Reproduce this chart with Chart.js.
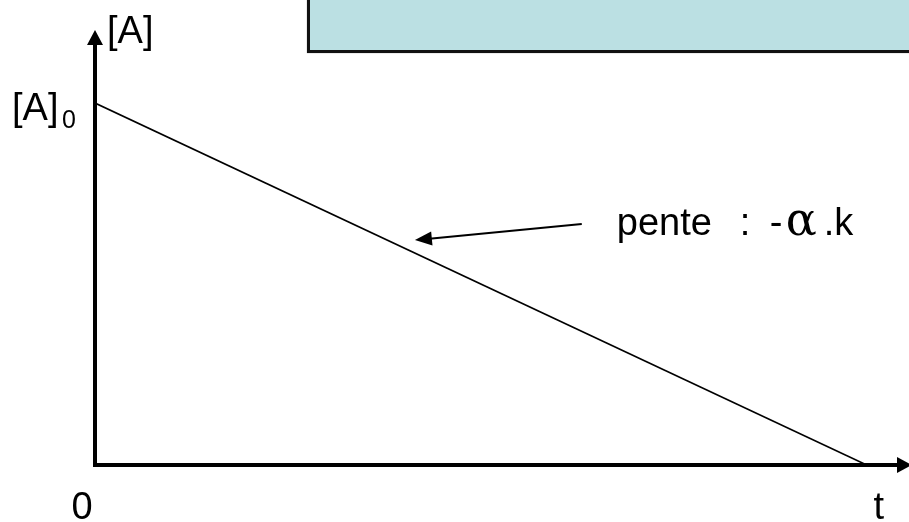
<!DOCTYPE html>
<html>
<head>
<meta charset="utf-8">
<title>[A] = f(t)</title>
<script src="https://cdn.jsdelivr.net/npm/chart.js@4.4.1/dist/chart.umd.min.js"></script>
<style>
  html, body { margin:0; padding:0; background:#fff; }
  #wrap { position:relative; width:909px; height:522px; overflow:hidden; }
  #chart { position:absolute; left:0; top:0; }
  .banner {
    position:absolute; left:307px; top:-4px; width:720px; height:57px;
    box-sizing:border-box; border:3px solid #111; background:#bbe0e3;
    box-shadow:0 0 1px #888;
  }
</style>
</head>
<body>
<div id="wrap">
  <canvas id="chart" width="909" height="522"></canvas>
  <div class="banner"></div>
</div>
<script>
// zero-order decay: [A] falls linearly from [A]0 to 0
const tValues = [0, 9.48];
const concValues = [8.32, 0];
const xMax = 10, yMax = 10;

// slope callout, in data units
const arrowFrom = { x: 5.98, y: 5.54 };
const arrowTo = { x: 3.93, y: 5.17 };
const slopeLabelAt = { x: 6.41, y: 5.29 };

const FONT = '"Liberation Sans", Arial, sans-serif';

function arrowHead(ctx, tipX, tipY, angle, len, half){
  ctx.save();
  ctx.translate(tipX, tipY);
  ctx.rotate(angle);
  ctx.beginPath();
  ctx.moveTo(0, 0);
  ctx.lineTo(-len, -half);
  ctx.lineTo(-len, half);
  ctx.closePath();
  ctx.fill();
  ctx.restore();
}

const axesPlugin = {
  id: "axesAndLabels",
  afterDraw(chart){
    const ctx = chart.ctx;
    const xs = chart.scales.x, ys = chart.scales.y;
    const area = chart.chartArea;
    const x0 = xs.getPixelForValue(0);
    const y0 = ys.getPixelForValue(0);

    ctx.save();
    ctx.strokeStyle = "#000";
    ctx.fillStyle = "#000";

    // axes with arrow heads
    ctx.lineWidth = 4;
    ctx.lineCap = "butt";
    ctx.beginPath();
    ctx.moveTo(x0, y0 + 2);
    ctx.lineTo(x0, area.top + 12);
    ctx.moveTo(x0 - 2, y0);
    ctx.lineTo(area.right - 10, y0);
    ctx.stroke();
    arrowHead(ctx, x0, area.top, -Math.PI / 2, 15, 8);
    arrowHead(ctx, area.right + 3, y0, 0, 15, 8);

    // slope callout arrow
    const fx = xs.getPixelForValue(arrowFrom.x), fy = ys.getPixelForValue(arrowFrom.y);
    const tx = xs.getPixelForValue(arrowTo.x), ty = ys.getPixelForValue(arrowTo.y);
    const ang = Math.atan2(ty - fy, tx - fx);
    ctx.lineWidth = 2;
    ctx.beginPath();
    ctx.moveTo(fx, fy);
    ctx.lineTo(tx - Math.cos(ang) * 12, ty - Math.sin(ang) * 12);
    ctx.stroke();
    arrowHead(ctx, tx, ty, ang, 17, 7);

    // labels
    ctx.textBaseline = "alphabetic";
    ctx.font = "38px " + FONT;
    ctx.textAlign = "left";
    ctx.fillText("[A]", x0 + 12, area.top + 13);

    const a0y = ys.getPixelForValue(concValues[0]);
    ctx.fillText("[A]", x0 - 83, a0y + 17);
    ctx.font = "25px " + FONT;
    ctx.fillText("0", x0 - 33, a0y + 25);

    ctx.font = "38px " + FONT;
    ctx.textAlign = "center";
    ctx.fillText("0", x0 - 13, y0 + 54);
    ctx.fillText("t", xs.getPixelForValue(tValues[1]) + 12, y0 + 54);

    const lx = xs.getPixelForValue(slopeLabelAt.x);
    const ly = ys.getPixelForValue(slopeLabelAt.y);
    ctx.textAlign = "left";
    ctx.fillText("pente", lx, ly);
    ctx.fillText(":", lx + 123, ly);
    ctx.fillText("-", lx + 153, ly);
    ctx.font = "46px \"DejaVu Serif\", \"Liberation Serif\", serif";
    ctx.fillText("\u03b1", lx + 169, ly);
    ctx.font = "38px " + FONT;
    ctx.fillText(".k", lx + 207, ly);
    ctx.restore();
  }
};

new Chart(document.getElementById("chart"), {
  type: "line",
  data: {
    datasets: [{
      data: tValues.map((t, i) => ({ x: t, y: concValues[i] })),
      borderColor: "#000",
      borderWidth: 1.6,
      pointRadius: 0,
      tension: 0,
      fill: false
    }]
  },
  options: {
    responsive: false,
    animation: false,
    devicePixelRatio: 1,
    layout: { padding: { left: 95, right: 0, top: 30, bottom: 57 } },
    plugins: { legend: { display: false }, tooltip: { enabled: false } },
    scales: {
      x: { type: "linear", min: 0, max: xMax, display: false },
      y: { type: "linear", min: 0, max: yMax, display: false }
    }
  },
  plugins: [axesPlugin]
});
</script>
</body>
</html>
